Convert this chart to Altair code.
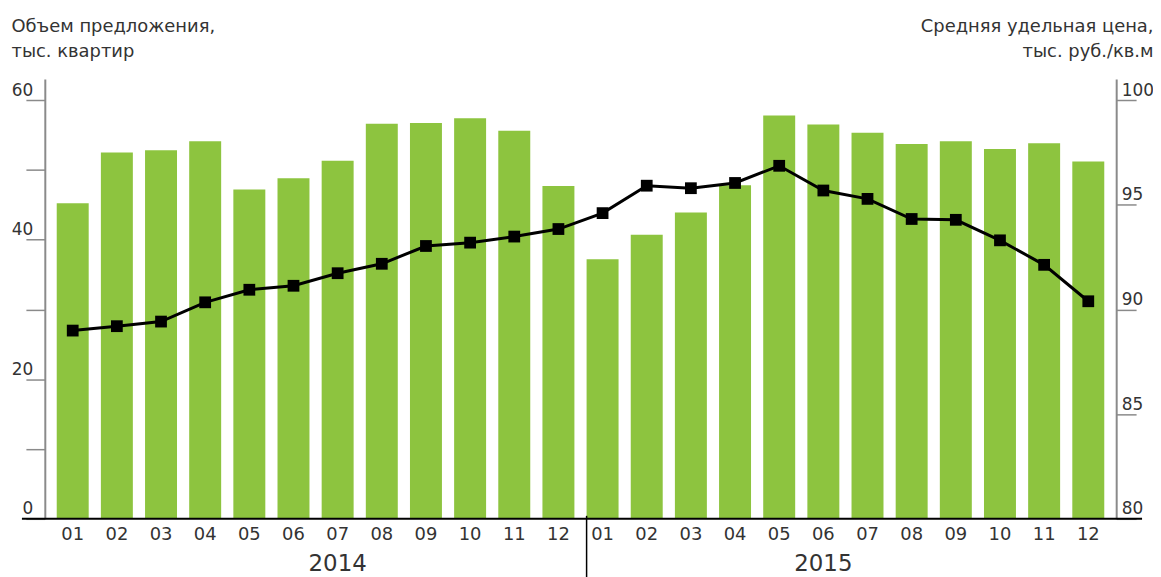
import altair as alt
import pandas as pd

# ---- data ----
months = ["01", "02", "03", "04", "05", "06", "07", "08", "09", "10", "11", "12"]
years = ["2014", "2015"]
supply_2014 = [45.2, 52.5, 52.8, 54.1, 47.2, 48.8, 51.3, 56.6, 56.7, 57.4, 55.6, 47.7]
supply_2015 = [37.2, 40.7, 43.9, 47.8, 57.8, 56.5, 55.3, 53.7, 54.1, 53.0, 53.8, 51.2]
price_2014 = [88.99, 89.20, 89.42, 90.34, 90.94, 91.13, 91.73, 92.18, 93.03, 93.19, 93.48, 93.84]
price_2015 = [94.60, 95.91, 95.79, 96.04, 96.86, 95.68, 95.28, 94.32, 94.28, 93.30, 92.13, 90.39]
year_label_at = ["2014-07", "2015-06"]   # month under which each year label sits
left_ticks = [0, 10, 20, 30, 40, 50, 60]
right_ticks = [80, 85, 90, 95, 100]
left_title = ["Объем предложения,", "тыс. квартир"]
right_title = ["Средняя удельная цена,", "тыс. руб./кв.м"]

FONT = "DejaVu Sans"
TXT = "#333333"
AX = "#8a8a8a"
GREEN = "#8dc43f"

rows = []
for y, sup, pr in [(years[0], supply_2014, price_2014), (years[1], supply_2015, price_2015)]:
    for m, s, p in zip(months, sup, pr):
        rows.append({"ym": f"{y}-{m}", "supply": s, "price": p})
df = pd.DataFrame(rows)
year_df = pd.DataFrame({"ym": year_label_at, "year": years})
div_df = pd.DataFrame({"ym": [f"{years[1]}-{months[0]}"]})
base_df = pd.DataFrame({"v": [0]})

W = 1077

xscale = alt.Scale(paddingInner=0.276, paddingOuter=0.27, round=False)
xenc = alt.X("ym:O", scale=xscale, sort=None,
             axis=alt.Axis(title=None, labelExpr="slice(datum.label, 5)", ticks=False,
                           domain=False, labelAngle=0, labelFont=FONT, labelFontSize=18,
                           labelColor=TXT, labelPadding=7, labelBaseline="top"))

bars = alt.Chart(df).mark_bar(color=GREEN).encode(
    x=xenc,
    y=alt.Y("supply:Q", scale=alt.Scale(domain=[0, 63], nice=False, zero=True),
            axis=alt.Axis(orient="left", values=left_ticks,
                          labelExpr="datum.value % 20 == 0 ? datum.label : ''",
                          tickSize=19, tickColor=AX, tickWidth=1.5,
                          domainColor=AX, domainWidth=2, grid=False,
                          labelAlign="right", labelPadding=-7, labelBaseline="alphabetic",
                          labelOffset=-5, labelFont=FONT, labelFontSize=17, labelColor=TXT,
                          title=left_title, titleAngle=0, titleAlign="left",
                          titleBaseline="top", titleX=-34, titleY=-62,
                          titleFont=FONT, titleFontSize=18, titleFontWeight="normal",
                          titleColor=TXT, titleLineHeight=25)),
)

base_rule = alt.Chart(base_df).mark_rule(color="black", strokeWidth=2).encode(
    y=alt.Y("v:Q"), x=alt.value(-23), x2=alt.value(W + 26))

divider = alt.Chart(div_df).mark_rule(color="black", strokeWidth=1.5).encode(
    x=alt.X("ym:O", bandPosition=0), y=alt.value(439), y2=alt.value(520))

year_text = alt.Chart(year_df).mark_text(font=FONT, fontSize=23, color=TXT,
                                         baseline="alphabetic", align="center").encode(
    x=alt.X("ym:O"), y=alt.value(494), text="year:N")

left = alt.layer(bars, base_rule, divider, year_text)

line = alt.Chart(df).mark_line(color="black", strokeWidth=3).encode(
    x=alt.X("ym:O"),
    y=alt.Y("price:Q", scale=alt.Scale(domain=[80, 101], nice=False, zero=False),
            axis=alt.Axis(orient="right", values=right_ticks,
                          tickSize=20, tickColor=AX, tickWidth=1.5,
                          domainColor=AX, domainWidth=2, grid=False,
                          labelAlign="left", labelPadding=-15, labelBaseline="alphabetic",
                          labelOffset=-5, labelFont=FONT, labelFontSize=17, labelColor=TXT,
                          title=right_title, titleAngle=0, titleAlign="right",
                          titleBaseline="top", titleX=37, titleY=-62,
                          titleFont=FONT, titleFontSize=18, titleFontWeight="normal",
                          titleColor=TXT, titleLineHeight=25)),
)
pts = alt.Chart(df).mark_point(shape="square", filled=True, color="black", size=140, opacity=1).encode(
    x=alt.X("ym:O"), y=alt.Y("price:Q"))

right = alt.layer(line, pts)

chart = alt.layer(left, right).resolve_scale(y="independent").properties(
    width=W, height=442,
    autosize=alt.AutoSizeParams(type="none"),
    padding={"left": 37, "top": 70, "right": 37, "bottom": 57},
    background="white",
).configure_view(stroke=None)

chart.save("out.html", embed_options={"renderer": "svg", "actions": False})
